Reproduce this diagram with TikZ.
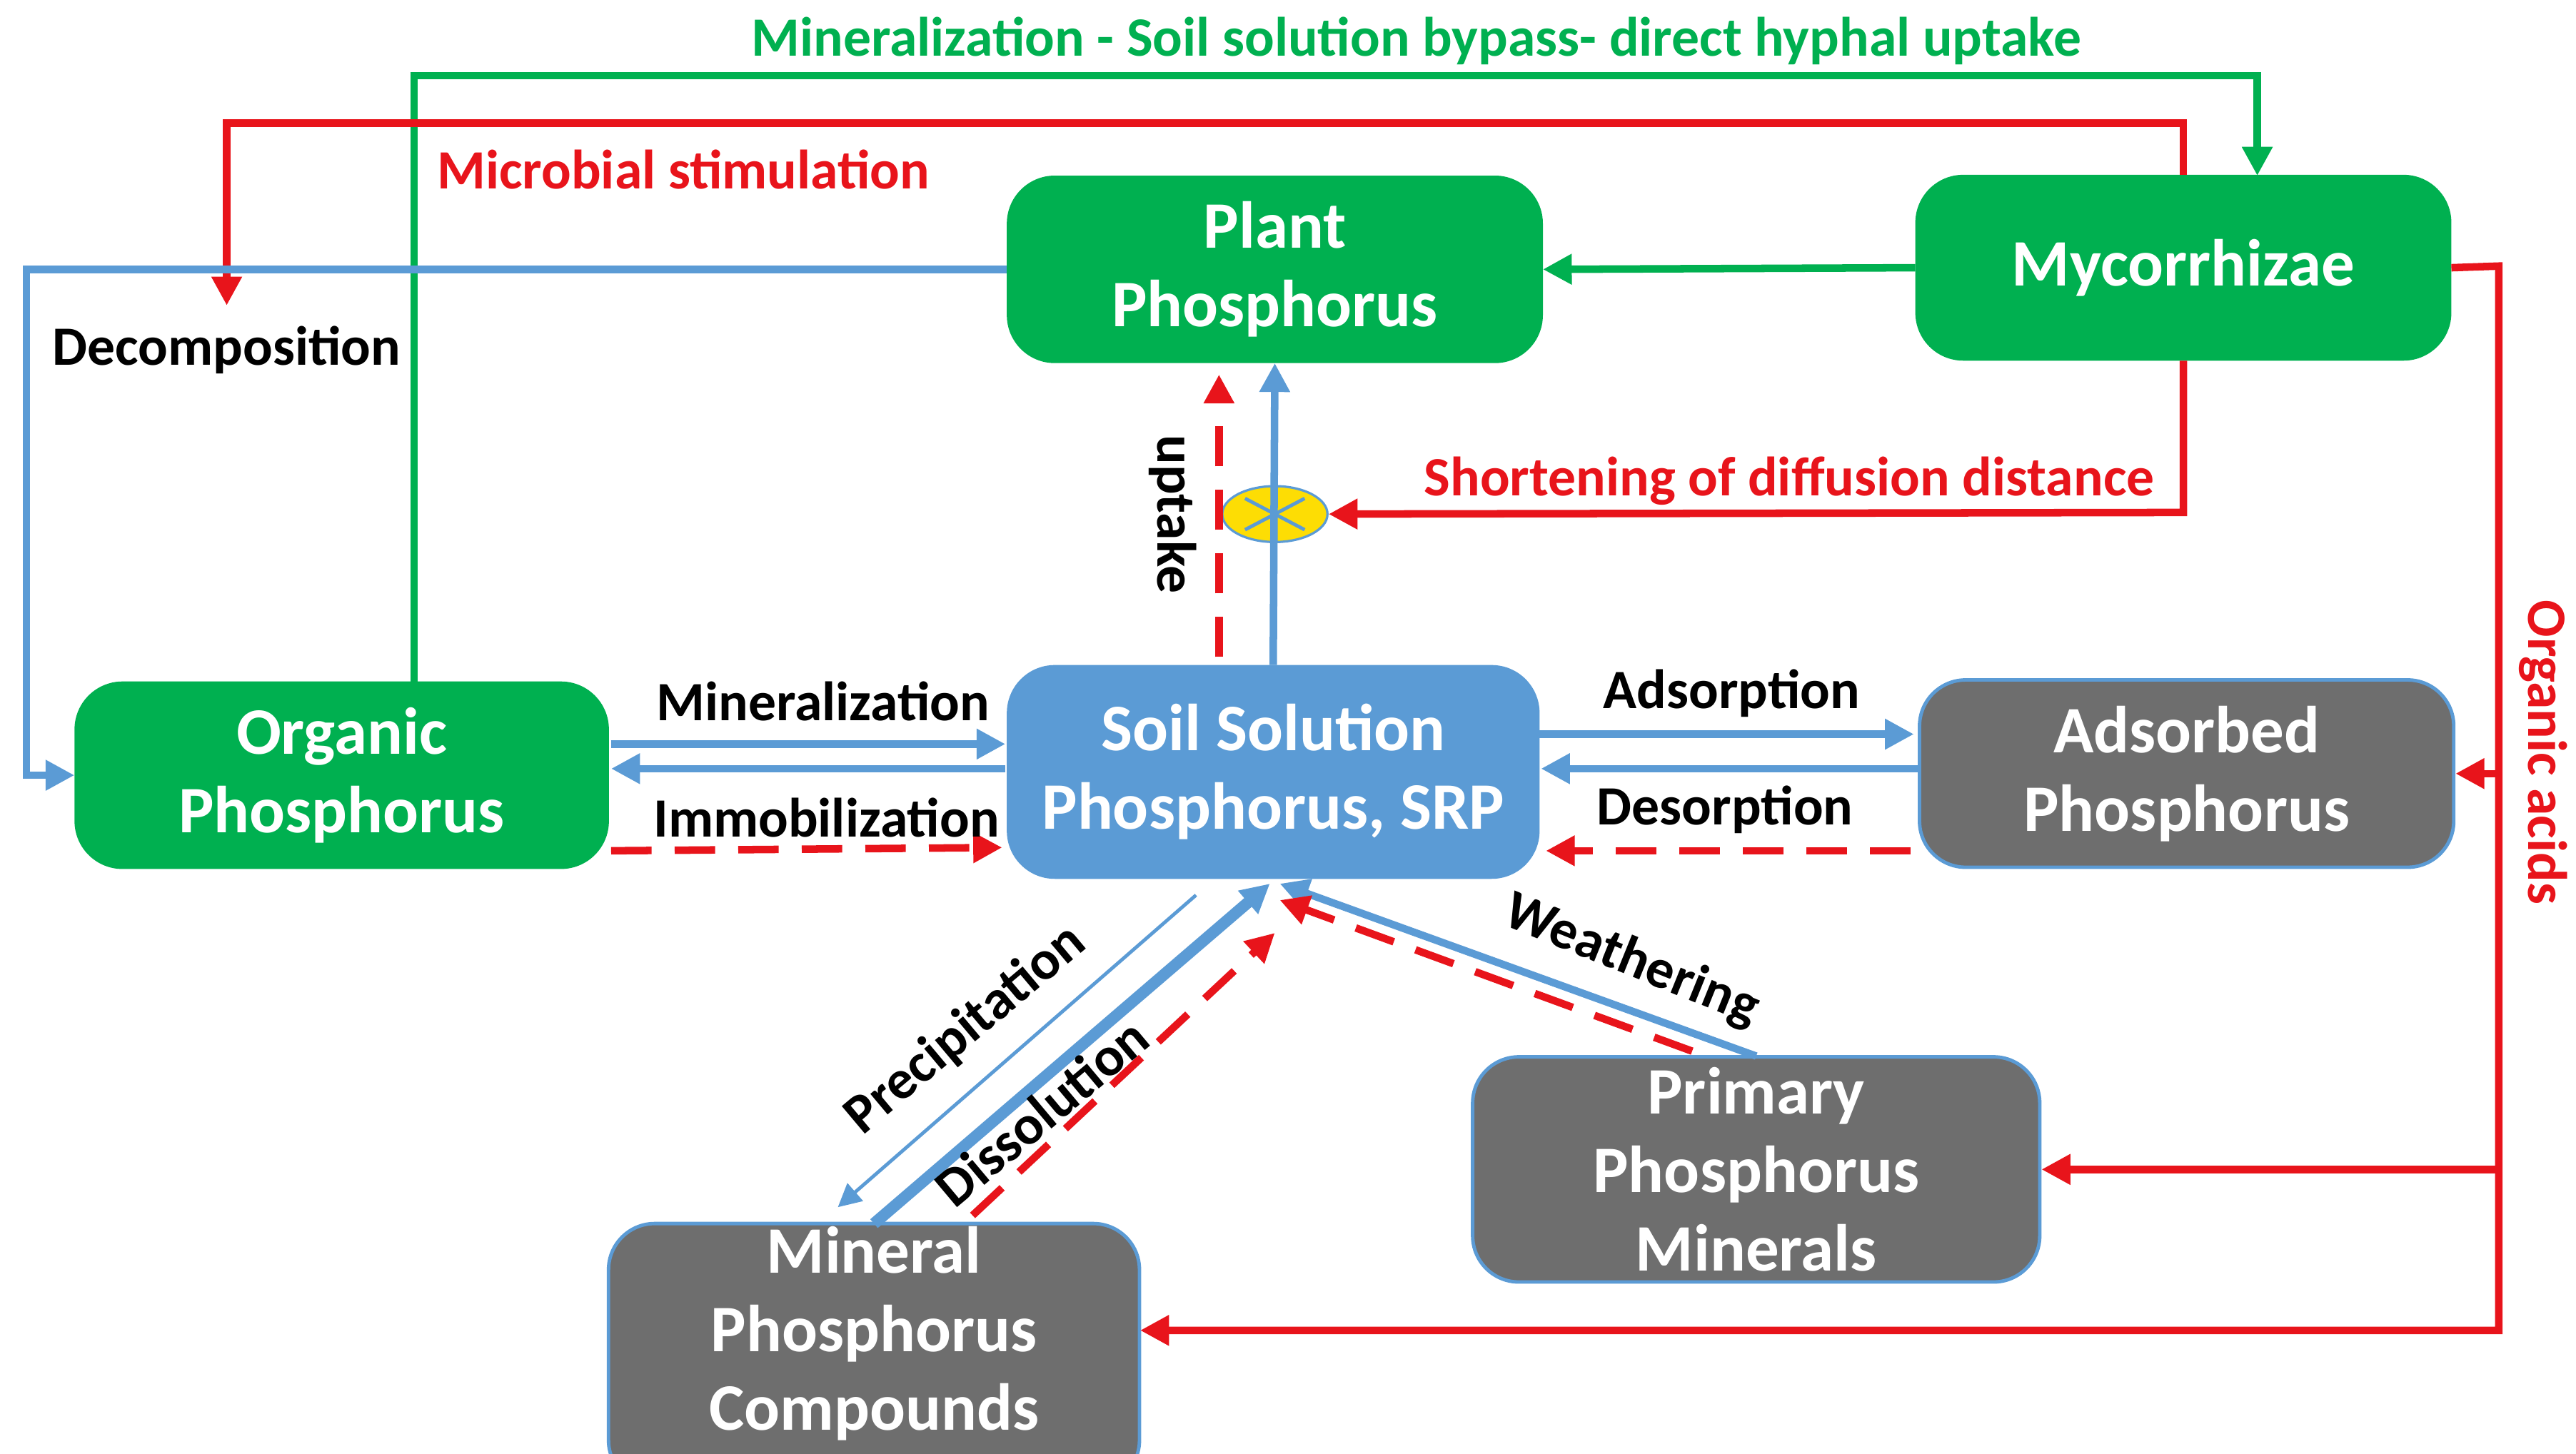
\documentclass[tikz,border=0pt]{standalone}
\usepackage{fontspec}
\setmainfont{Carlito}
\usetikzlibrary{arrows.meta,shapes.geometric,calc}
\definecolor{gr}{HTML}{00B050}
\definecolor{bl}{HTML}{5B9BD5}
\definecolor{gy}{HTML}{6E6E6E}
\definecolor{rd}{HTML}{E8141B}
\begin{document}
\begin{tikzpicture}[x=0.01cm,y=-0.01cm,
 box/.style={draw=bl,line width=0.6pt,rounded corners=8pt,text=white,align=center,font=\bfseries\fontsize{11.5}{13.6}\selectfont,inner sep=0pt},
 gbox/.style={box,fill=gr,draw=gr},
 ybox/.style={box,fill=gy},
 lab/.style={font=\bfseries\fontsize{9.6}{11}\selectfont},
 ar/.style={-{Triangle[length=5pt,width=5pt]},line width=1.3pt},
 ba/.style={ar,bl}, ra/.style={ar,rd}, ga/.style={ar,gr},
 rd2/.style={ra,dashed,dash pattern=on 7pt off 4pt}]
\useasboundingbox (0,0) rectangle (1568,885);
\clip (0,0) rectangle (1568,885);
\node[gbox,minimum width=3.24cm,minimum height=1.12cm] (plant) at (776,164) {Plant\\Phosphorus};
\node[gbox,minimum width=3.24cm,minimum height=1.11cm] (myc) at (1329,163) {Mycorrhizae};
\node[gbox,minimum width=3.23cm,minimum height=1.12cm] (org) at (208,472) {Organic\\Phosphorus};
\node[box,fill=bl,minimum width=3.22cm,minimum height=1.28cm] (soil) at (775,470) {Soil Solution\\Phosphorus, SRP};
\node[ybox,minimum width=3.25cm,minimum height=1.14cm] (ads) at (1331,471) {Adsorbed\\Phosphorus};
\node[ybox,minimum width=3.45cm,minimum height=1.37cm] (prim) at (1069,712) {Primary\\Phosphorus\\Minerals};
\node[ybox,minimum width=3.23cm,minimum height=1.6cm] (min) at (532,825) {};
\node[text=white,align=center,font=\bfseries\fontsize{11.5}{13.6}\selectfont] (mint) at (532,812) {Mineral\\Phosphorus\\Compounds};
\node[draw=bl,fill=yellow!80!orange,ellipse,minimum width=0.64cm,minimum height=0.34cm,inner sep=0pt] (ell) at (776,313) {};
\draw[bl,line width=0.6pt] ($(ell.north west)+(5,3)$) -- ($(ell.south east)+(-5,-3)$);
\draw[bl,line width=0.6pt] ($(ell.north east)+(-5,3)$) -- ($(ell.south west)+(5,-3)$);
% top loops
\coordinate (g1) at (252,46); \coordinate (g2) at (1374,46);
\draw[ga] (252,416) -- (g1) -- (g2) -- (1374,107);
\node[lab,text=gr] (tg) at (862,25) {Mineralization - Soil solution bypass- direct hyphal uptake};
\coordinate (r1) at (1329,75); \coordinate (r2) at (138,75); \coordinate (r3) at (138,186);
\draw[ra] (myc.north) -- (r1) -- (r2) -- (r3);
\node[lab,text=rd] (tr) at (416,103) {Microbial stimulation};
\node[lab] (dec) at (138,213) {Decomposition};
\coordinate (b1) at (16,164); \coordinate (b2) at (16,472);
\draw[ba] (plant.west) -- (b1) -- (b2) -- (org.west);
\draw[ga] (myc.west) -- (plant.east);
% organic acids
\coordinate (o1) at (1521,162); \coordinate (o2) at (1521,810);
\coordinate (o3) at (1521,471); \coordinate (o4) at (1521,712);
\draw[ra] (myc.east) -- (o1) -- (o2) -- (694,810);
\draw[ra] (o3) -- (ads.east);
\draw[ra] (o4) -- (prim.east);
\node[lab,text=rd,rotate=-90] (toa) at (1548,458) {Organic acids};
\coordinate (s1) at (1329,312);
\draw[ra] (myc.south) -- (s1) -- (ell.east);
\node[lab,text=rd] (tsd) at (1089,293) {Shortening of diffusion distance};
% uptake
\draw[ba] (soil.north) -- (plant.south);
\coordinate (u1) at (742,400); \coordinate (u2) at (742,228);
\draw[rd2] (u1) -- (u2);
\node[lab,rotate=-90] (tu) at (714,313) {uptake};
% organic <-> soil
\draw[ba] (372,453) -- (612,453);
\draw[ba] (612,468) -- (372,468);
\draw[rd2] (372,518) -- (610,516);
\node[lab] (tm) at (501,427) {Mineralization};
\node[lab] (ti) at (503,498) {Immobilization};
% adsorbed <-> soil
\draw[ba] (937,447) -- (1165,447);
\draw[ba] (1169,468) -- (938,468);
\draw[rd2] (1163,518) -- (941,518);
\node[lab] (tad) at (1054,422) {Adsorption};
\node[lab] (tde) at (1050,493) {Desorption};
% weathering
\draw[ba] (1069,643) -- (779,538);
\draw[rd2] (1030,640) -- (779,548);
\node[lab,rotate=-22] (tw) at (993,585) {Weathering};
% mineral
\draw[ba,line width=2pt] (532,745) -- (773,538);
\draw[bl,line width=0.6pt,-{Triangle[length=4pt,width=4pt]}] (728,545) -- (510,735);
\draw[rd2] (592,740) -- (776,568);
\node[lab,rotate=40] (tp) at (588,627) {Precipitation};
\node[lab,rotate=40] (tdi) at (634,677) {Dissolution};
\end{tikzpicture}
\end{document}
